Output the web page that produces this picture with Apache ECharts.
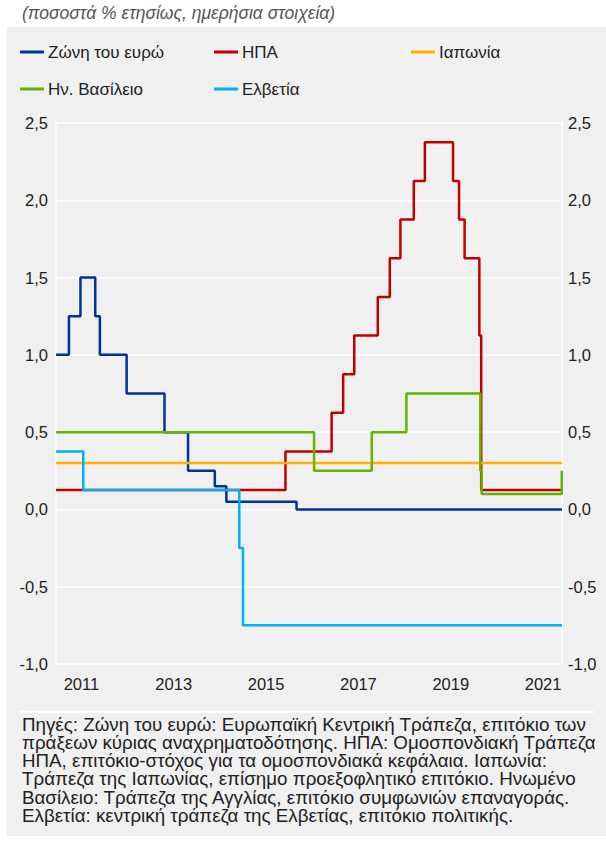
<!DOCTYPE html>
<html>
<head>
<meta charset="utf-8">
<script src="https://cdn.jsdelivr.net/npm/echarts@6/dist/echarts.min.js"></script>
<style>
  html, body { margin: 0; padding: 0; background: #ffffff; }
  #chart { width: 606px; height: 841px; }
</style>
</head>
<body>
<div id="chart"></div>
<script>
// ---------- data (decimal years, rates in %) ----------
const xStart = 2011.0;
const xEnd = 2021.96;

const euroDates = [2011.0, 2011.28, 2011.53, 2011.85, 2011.95, 2012.53, 2013.35, 2013.86, 2014.44, 2014.69, 2016.21, 2021.96];
const euroValues = [1.00, 1.25, 1.50, 1.25, 1.00, 0.75, 0.50, 0.25, 0.15, 0.05, 0.00, 0.00];

const usDates = [2011.0, 2015.97, 2016.97, 2017.22, 2017.46, 2017.97, 2018.23, 2018.46, 2018.75, 2018.99, 2019.60, 2019.73, 2019.85, 2020.17, 2020.21, 2021.96];
const usValues = [0.125, 0.375, 0.625, 0.875, 1.125, 1.375, 1.625, 1.875, 2.125, 2.375, 2.125, 1.875, 1.625, 1.125, 0.125, 0.125];

const japanDates = [2011.0, 2021.96];
const japanValues = [0.30, 0.30];

const ukDates = [2011.0, 2016.59, 2017.84, 2018.59, 2020.19, 2020.22, 2021.955, 2021.96];
const ukValues = [0.50, 0.25, 0.50, 0.75, 0.25, 0.10, 0.25, 0.25];

const chDates = [2011.0, 2011.59, 2014.97, 2015.05, 2021.96];
const chValues = [0.375, 0.125, -0.25, -0.75, -0.75];

const seriesNames = ['Ζώνη του ευρώ', 'ΗΠΑ', 'Ιαπωνία', 'Ην. Βασίλειο', 'Ελβετία'];
const xLabelYears = [2011, 2013, 2015, 2017, 2019, 2021];
const yMin = -1.0, yMax = 2.5, yStep = 0.5;

const titleText = '(ποσοστά % ετησίως, ημερήσια στοιχεία)';
const footerLines = [
  'Πηγές: Ζώνη του ευρώ: Ευρωπαϊκή Κεντρική Τράπεζα, επιτόκιο των',
  'πράξεων κύριας αναχρηματοδότησης. ΗΠΑ: Ομοσπονδιακή Τράπεζα',
  'ΗΠΑ, επιτόκιο-στόχος για τα ομοσπονδιακά κεφάλαια. Ιαπωνία:',
  'Τράπεζα της Ιαπωνίας, επίσημο προεξοφλητικό επιτόκιο. Ηνωμένο',
  'Βασίλειο: Τράπεζα της Αγγλίας, επιτόκιο συμφωνιών επαναγοράς.',
  'Ελβετία: κεντρική τράπεζα της Ελβετίας, επιτόκιο πολιτικής.'
];

// ---------- build ----------
const colors = ['#003399', '#C00000', '#FFB000', '#66B300', '#00B0F0'];
const zip = (d, v) => d.map((t, i) => [t, v[i]]);
const seriesData = [
  zip(euroDates, euroValues),
  zip(usDates, usValues),
  zip(japanDates, japanValues),
  zip(ukDates, ukValues),
  zip(chDates, chValues)
];

const FONT = '"Liberation Sans", Arial, Helvetica, sans-serif';
const fmtY = v => v.toFixed(1).replace('.', ',');

const legendPos = [[20, 43.5], [214, 43.5], [411, 43.5], [20, 80.5], [214, 80.5]];
const legends = seriesNames.map((n, i) => ({
  data: [n],
  left: legendPos[i][0],
  top: legendPos[i][1],
  icon: 'rect',
  itemWidth: 24,
  itemHeight: 3,
  itemGap: 0,
  padding: 0,
  selectedMode: false,
  textStyle: { fontFamily: FONT, fontSize: 17, color: '#222', padding: [0, 0, 0, -1] }
}));

const footerGraphics = footerLines.map((line, i) => ({
  type: 'text', silent: true,
  x: 22, y: 715.5 + i * 18.2, scaleX: 1.055,
  style: { text: line, fontFamily: FONT, fontSize: 17.8, fill: '#222', verticalAlign: 'top' }
}));

const chart = echarts.init(document.getElementById('chart'), null, { renderer: 'svg' });
chart.setOption({
  backgroundColor: '#ffffff',
  animation: false,
  color: colors,
  graphic: [
    { type: 'rect', z: -100, silent: true, shape: { x: 7, y: 27, width: 599, height: 809 }, style: { fill: '#F0F0F0' } },
    { type: 'line', z: -90, silent: true, shape: { x1: 20, y1: 712, x2: 594, y2: 712 }, style: { stroke: '#ffffff', lineWidth: 2 } },
    { type: 'text', left: 22, top: 4, silent: true,
      style: { text: titleText, fontFamily: FONT, fontSize: 17.5, fontStyle: 'italic', fill: '#555' } }
  ].concat(footerGraphics),
  legend: legends,
  grid: { left: 56, right: 44, top: 123, bottom: 177, containLabel: false },
  xAxis: {
    type: 'value',
    min: xStart,
    max: xEnd,
    axisLine: { show: false },
    axisTick: { show: false },
    splitLine: { show: false },
    axisLabel: {
      customValues: xLabelYears.map(y => y + 0.55),
      formatter: v => String(Math.floor(v)),
      fontFamily: FONT, fontSize: 16.5, color: '#222', margin: 11,
      showMinLabel: true, showMaxLabel: true
    }
  },
  yAxis: [
    {
      type: 'value', position: 'left', min: yMin, max: yMax, interval: yStep,
      axisLine: { show: true, lineStyle: { color: '#ffffff', width: 1.5 } },
      axisTick: { show: false },
      splitLine: { show: true, lineStyle: { color: '#ffffff', width: 1.5 } },
      axisLabel: { formatter: fmtY, fontFamily: FONT, fontSize: 16.5, color: '#222', margin: 8 }
    },
    {
      type: 'value', position: 'right', min: yMin, max: yMax, interval: yStep,
      axisLine: { show: true, lineStyle: { color: '#ffffff', width: 1.5 } },
      axisTick: { show: false },
      splitLine: { show: false },
      axisLabel: { formatter: fmtY, fontFamily: FONT, fontSize: 16.5, color: '#222', margin: 6 }
    }
  ],
  series: seriesNames.map((n, i) => ({
    name: n,
    type: 'line',
    step: 'end',
    data: seriesData[i],
    showSymbol: false,
    symbol: 'none',
    lineStyle: { width: 2.5, color: colors[i] },
    itemStyle: { color: colors[i] },
    emphasis: { disabled: true },
    z: 2 + i
  }))
});
</script>
</body>
</html>
